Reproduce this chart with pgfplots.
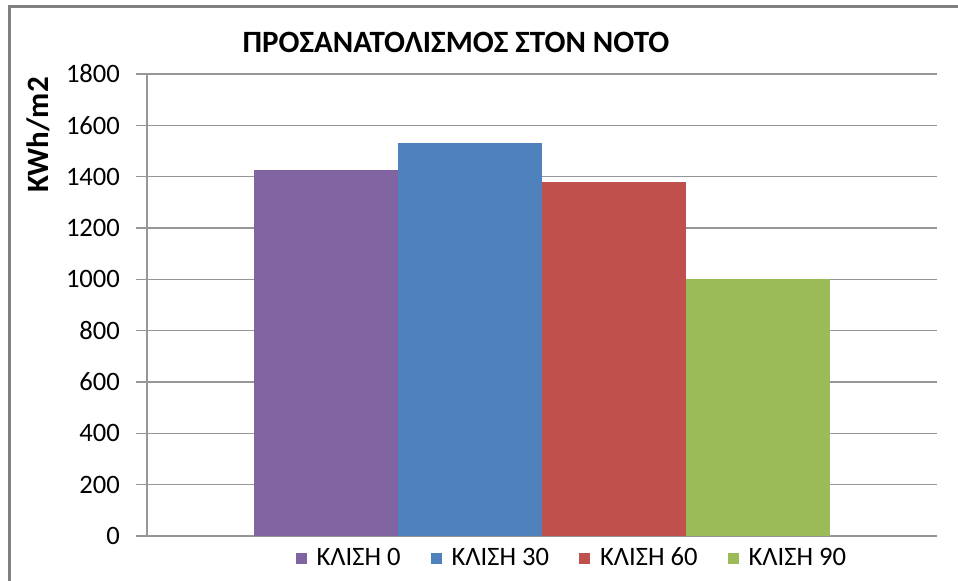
\documentclass[border=0pt]{standalone}
\usepackage{fontspec}
\setmainfont{Carlito}
\usepackage{pgfplots}
\pgfplotsset{compat=1.18}
\definecolor{cpurple}{RGB}{128,100,162}
\definecolor{cblue}{RGB}{79,129,189}
\definecolor{cred}{RGB}{192,80,77}
\definecolor{cgreen}{RGB}{155,187,89}
\definecolor{gridgray}{RGB}{150,150,150}
\definecolor{framegray}{RGB}{128,128,128}
\begin{document}
\begin{tikzpicture}
\useasboundingbox (0,0) rectangle (479pt,290.5pt);
\fill[white] (0,0) rectangle (479pt,290.5pt);
\draw[framegray,line width=1.5pt] (4.5pt,0) -- (4.5pt,287pt) -- (479pt,287pt);
\begin{axis}[
    at={(73.5pt,22.5pt)},anchor=south west,
    scale only axis,
    width=395pt,height=231pt,
    xmin=-0.5,xmax=0.5,
    ymin=0,ymax=1800,
    ytick={0,200,...,1800},
    xtick=\empty,
    axis x line=bottom,axis y line=left,
    axis line style={gridgray,line width=0.6pt,-},
    ymajorgrids,
    major grid style={gridgray,line width=0.6pt},
    tick style={gridgray,line width=0.6pt},
    major tick length=5.5pt,
    tick align=outside,
    /pgf/number format/assume math mode=true,
    /pgf/number format/1000 sep={},
    yticklabel style={font=\fontsize{13.3}{16}\selectfont,xshift=-4.5pt},
    ybar=0pt,
    bar width=72pt,
    ylabel={\bfseries KWh/m2},
    ylabel style={font=\fontsize{15.5}{18}\selectfont,at={(axis description cs:-0.138,0.868)},anchor=center,rotate=0},
    title={\bfseries ΠΡΟΣΑΝΑΤΟΛΙΣΜΟΣ ΣΤΟΝ ΝΟΤΟ},
    title style={font=\fontsize{15.5}{18}\selectfont,at={(axis description cs:0.391,1.043)},anchor=center,yshift=0pt},
    legend columns=4,
    legend style={draw=none,fill=none,font=\fontsize{13.3}{16}\selectfont,
        at={(axis description cs:0.539,-0.048)},anchor=center,
        /tikz/every odd column/.append style={column sep=3pt},
        /tikz/every even column/.append style={column sep=13pt}},
    legend image code/.code={\fill[#1,draw=none] (0pt,-2.75pt) rectangle (5.5pt,2.75pt);},
]
\addplot[fill=cpurple,draw=none] coordinates {(0,1426)};
\addplot[fill=cblue,draw=none] coordinates {(0,1531)};
\addplot[fill=cred,draw=none] coordinates {(0,1378)};
\addplot[fill=cgreen,draw=none] coordinates {(0,1000)};
\legend{ΚΛΙΣΗ 0,ΚΛΙΣΗ 30,ΚΛΙΣΗ 60,ΚΛΙΣΗ 90}
\end{axis}
\end{tikzpicture}
\end{document}
